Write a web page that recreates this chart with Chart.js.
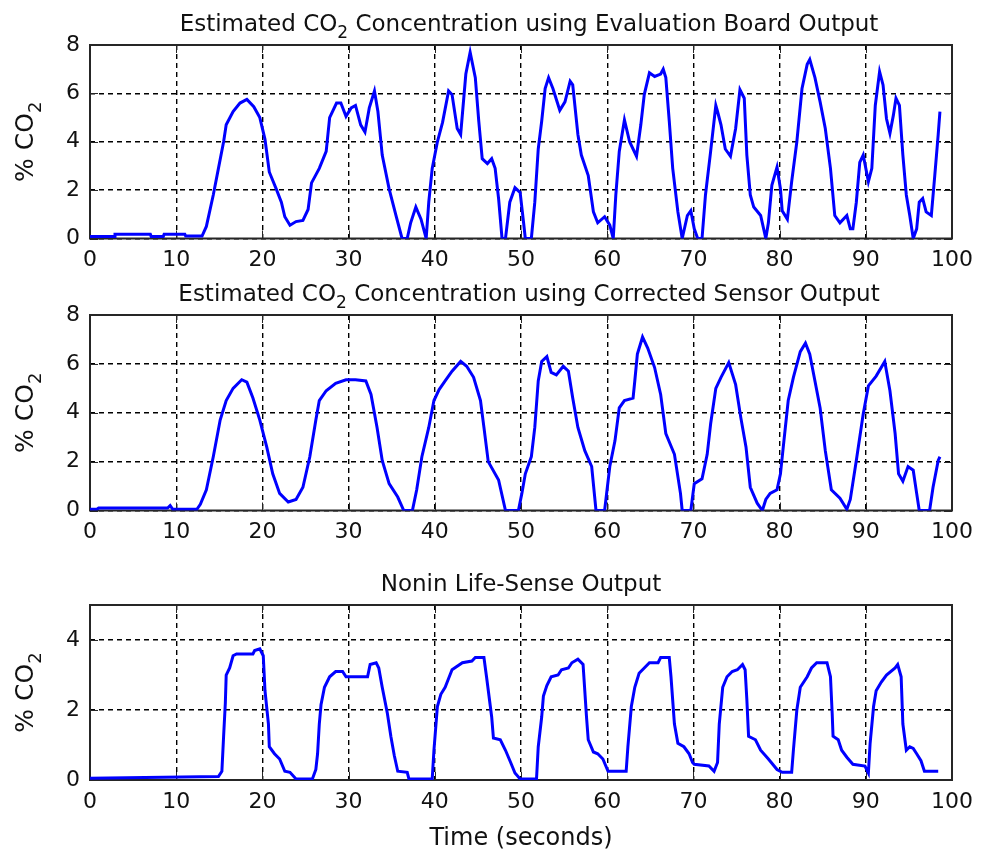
<!DOCTYPE html>
<html>
<head>
<meta charset="utf-8">
<script src="https://cdn.jsdelivr.net/npm/chart.js@4.4.1/dist/chart.umd.min.js"></script>
<style>
  html, body { margin: 0; padding: 0; background: #ffffff; }
  #wrap { position: relative; width: 982px; height: 854px; background: #ffffff; }
  #wrap canvas { position: absolute; left: 0; top: 0; }
</style>
</head>
<body>
<div id="wrap">
  <canvas id="evalChart" width="982" height="854"></canvas>
  <canvas id="corrChart" width="982" height="854"></canvas>
  <canvas id="noninChart" width="982" height="854"></canvas>
</div>
<script>
// ---- Data: time (s) and % CO2 for each recording ----
const timeTicks = [0, 10, 20, 30, 40, 50, 60, 70, 80, 90, 100];
const co2Ticks8 = [0, 2, 4, 6, 8];
const co2Ticks5 = [0, 2, 4];

// Evaluation board output
const evalTime = [
  0, 2.8, 2.9, 7, 7.1, 8.5, 8.6, 11, 11.1, 13,
  13.5, 14.3, 14.9, 15.5, 15.8, 16.6, 17.4, 18.2, 19,
  19.7, 20.3, 20.8, 21.6, 22.2, 22.6, 23.2, 23.9, 24.7, 25.3,
  25.7, 26.6, 27.4, 27.8, 28.6, 29.1, 29.7, 30.3, 30.8, 31.4, 31.9, 32.4, 33,
  33.4, 33.9, 34.7, 35.5, 36.2, 36.8, 37.2, 37.8, 38.4, 39,
  39.3, 39.7, 40.3, 40.9, 41.6, 42, 42.6, 43, 43.6, 44.1, 44.7, 45.1,
  45.5, 46.1, 46.6, 47, 47.4, 47.8, 48.2, 48.7, 49.3, 49.9, 50.3, 50.5, 51.2,
  51.6, 52, 52.4, 52.8, 53.2, 53.7, 54.5, 55.1, 55.7, 56.0, 56.6, 57,
  57.8, 58.4, 58.9, 59.7, 60.3, 60.7, 61.0, 61.4, 62, 62.6, 63.4,
  63.9, 64.3, 64.9, 65.5, 66.2, 66.5, 66.8, 67.2, 67.6, 68.2, 68.7, 69.3,
  69.7, 70.1, 70.5, 71.0, 71.4, 72, 72.6, 72.8, 73.2, 73.7, 74.3, 74.9, 75.4,
  75.9, 76.2, 76.6, 77.0, 77.8, 78.4, 78.7, 79.1, 79.7, 80.1, 80.3, 80.9, 81.4,
  82, 82.6, 83.2, 83.5, 84.1, 84.7, 85.3, 85.9, 86.4, 87, 87.8, 88.2, 88.5,
  88.9, 89.3, 89.7, 90.3, 90.7, 91.1, 91.6, 92, 92.4, 92.8, 93.2, 93.5, 93.9, 94.3,
  94.7, 95.1, 95.5, 95.9, 96.2, 96.6, 97, 97.6, 98, 98.4, 98.6
];
const evalCO2 = [
  0.08, 0.08, 0.18, 0.18, 0.08, 0.08, 0.18, 0.18, 0.1, 0.1,
  0.5, 1.8, 2.9, 4.0, 4.7, 5.25, 5.6, 5.75, 5.45,
  5.0, 4.1, 2.75, 2.05, 1.5, 0.9, 0.55, 0.7, 0.75, 1.2,
  2.3, 2.9, 3.6, 5.0, 5.6, 5.6, 5.05, 5.4, 5.5, 4.7, 4.4, 5.4, 6.1,
  5.25, 3.45, 2.05, 0.95, 0, 0, 0.65, 1.3, 0.8, 0,
  1.5, 2.9, 4.0, 4.8, 6.1, 5.95, 4.55, 4.3, 6.8, 7.7, 6.65, 4.85,
  3.3, 3.1, 3.3, 2.9, 1.65, 0, 0, 1.5, 2.1, 1.9, 0.65, 0, 0,
  1.5, 3.7, 4.85, 6.2, 6.65, 6.2, 5.3, 5.65, 6.5, 6.35, 4.3, 3.45,
  2.6, 1.1, 0.65, 0.9, 0.55, 0, 1.8, 3.6, 4.9, 4.0, 3.4,
  4.7, 5.95, 6.85, 6.7, 6.8, 7.0, 6.65, 4.85, 2.9, 1.1, 0, 0.95,
  1.15, 0.4, 0, 0, 1.8, 3.6, 5.5, 5.25, 4.7, 3.7, 3.4, 4.55, 6.15,
  5.8, 3.45, 1.8, 1.3, 0.95, 0, 0.65, 2.2, 2.95, 2.05, 1.15, 0.8, 2.35,
  4.0, 6.2, 7.2, 7.4, 6.65, 5.65, 4.55, 2.9, 0.95, 0.65, 0.95, 0.4, 0.4,
  1.5, 3.15, 3.45, 2.35, 2.9, 5.5, 6.9, 6.35, 4.95, 4.35, 5.1, 5.8, 5.5, 3.45,
  1.8, 0.95, 0, 0.4, 1.5, 1.65, 1.1, 0.95, 2.6, 4.3, 5.25
];

// Corrected sensor output
const corrTime = [
  0, 0.8, 1, 9, 9.3, 9.6, 12.4, 12.8,
  13.5, 14.3, 15.1, 15.8, 16.6, 17.6, 18.2, 18.9, 19.7, 20.5, 21.2, 22, 23, 23.9, 24.7,
  25.5, 26.2, 26.6, 27.4, 28.5, 29.7, 30.8, 32, 32.6, 33.3, 33.9, 34.7, 35.7, 36.4, 37.4, 37.9,
  38.5, 39.3, 39.9, 40.5, 41.2, 42, 43, 43.7, 44.5, 45.3, 45.7, 46.2, 47.4, 48.2, 49.7,
  50.1, 50.5, 51.2, 51.6, 52, 52.4, 53, 53.5, 54.1, 54.9, 55.5, 56.0, 56.6, 57.4, 58.2, 58.7, 59.7,
  60.3, 60.9, 61.4, 62, 63, 63.2, 63.5, 64.1, 64.7, 65.5, 66.2, 66.8, 67.8, 68.5, 68.7, 69.7,
  70.1, 71.0, 71.6, 72, 72.6, 73.2, 74.1, 74.9, 75.5, 76.1, 76.6, 77.4, 78, 78.4, 78.9, 79.7,
  80.1, 80.5, 81.0, 81.6, 82.4, 83, 83.5, 84.1, 84.7, 85.3, 86, 87, 87.8, 88.2,
  88.9, 89.7, 90.3, 91.2, 92.2, 92.8, 93.4, 93.8, 94.3, 94.9, 95.5, 95.9, 96.2, 97.4, 97.8, 98.4, 98.6
];
const corrCO2 = [
  0.05, 0.05, 0.1, 0.1, 0.2, 0.05, 0.05, 0.25,
  0.85, 2.2, 3.7, 4.5, 5.0, 5.35, 5.25, 4.6, 3.7, 2.6, 1.5, 0.7, 0.35, 0.45, 0.95,
  2.2, 3.7, 4.5, 4.9, 5.2, 5.35, 5.35, 5.3, 4.75, 3.4, 2.05, 1.1, 0.55, 0, 0, 0.85,
  2.2, 3.4, 4.5, 4.95, 5.3, 5.7, 6.1, 5.9, 5.45, 4.5, 3.4, 2.0, 1.25, 0, 0,
  0.7, 1.5, 2.2, 3.4, 5.3, 6.1, 6.3, 5.65, 5.55, 5.9, 5.7, 4.6, 3.4, 2.45, 1.8, 0, 0,
  1.8, 2.85, 4.2, 4.5, 4.6, 5.3, 6.4, 7.1, 6.65, 5.85, 4.75, 3.15, 2.3, 0.7, 0, 0,
  1.1, 1.3, 2.3, 3.55, 5.0, 5.45, 6.05, 5.15, 3.8, 2.6, 0.95, 0.3, 0, 0.45, 0.7, 0.85,
  1.5, 2.85, 4.5, 5.45, 6.5, 6.85, 6.4, 5.3, 4.2, 2.45, 0.85, 0.5, 0.05, 0.45,
  2.05, 3.95, 5.1, 5.5, 6.1, 4.9, 3.15, 1.5, 1.2, 1.8, 1.65, 0.7, 0, 0, 0.95, 2.05, 2.2
];

// Nonin Life-Sense output
const noninTime = [
  0, 14.9, 15.3, 15.5, 15.7, 15.8, 16.2, 16.6, 17, 18.9, 19.1, 19.7, 20.1,
  20.3, 20.7, 20.8, 21.4, 22, 22.6, 23.2, 23.9, 25.8, 26.2, 26.4, 26.6, 26.8, 27.2, 27.8, 28.5, 29.3, 29.7,
  32.2, 32.5, 33.2, 33.5, 33.9, 34.5, 34.9, 35.3, 35.7, 36.8, 37, 39.7, 39.9, 40.3, 40.7, 41.2, 41.6, 42,
  43.2, 44.3, 44.7, 45.7, 46.0, 46.6, 46.8, 47.6, 48.2, 48.8, 49.3, 49.9, 51.8,
  52, 52.4, 52.6, 53, 53.5, 54.3, 54.7, 55.5, 55.9, 56.6, 57.2, 57.6, 57.8, 58.4, 58.9, 59.5, 60.1, 62.2,
  62.4, 62.8, 63.2, 63.7, 64.3, 64.9, 65.9, 66.2, 67.2, 67.4, 67.8, 68.2, 68.9, 69.5, 69.9, 70.1, 71.8, 72.4,
  72.8, 73.0, 73.4, 73.9, 74.5, 75.1, 75.7, 76.0, 76.2, 76.4, 77.2, 77.8, 78.7, 79.7, 80.3, 81.4,
  81.6, 82, 82.4, 83.2, 83.7, 84.3, 85.5, 85.9, 86.1, 86.2, 86.8, 87.2, 87.8, 88.5, 89.9, 90.3,
  90.5, 90.9, 91.2, 91.8, 92.4, 93.4, 93.7, 94.1, 94.3, 94.7, 95.1, 95.5, 95.9, 96.4, 96.8, 98.4
];
const noninCO2 = [
  0.05, 0.1, 0.25, 1.25, 2.2, 3.0, 3.2, 3.55, 3.6, 3.6, 3.7, 3.75, 3.55,
  2.55, 1.6, 0.95, 0.75, 0.6, 0.25, 0.22, 0.03, 0.03, 0.3, 0.75, 1.6, 2.15, 2.65, 2.95, 3.1, 3.1, 2.95,
  2.95, 3.3, 3.35, 3.2, 2.65, 1.9, 1.25, 0.7, 0.25, 0.22, 0.03, 0.03, 0.85, 2.1, 2.45, 2.65, 2.9, 3.15,
  3.35, 3.4, 3.5, 3.5, 2.95, 1.8, 1.2, 1.15, 0.85, 0.5, 0.2, 0.03, 0.03,
  0.95, 1.8, 2.4, 2.7, 2.95, 3.0, 3.15, 3.2, 3.35, 3.45, 3.3, 1.8, 1.15, 0.8, 0.75, 0.6, 0.25, 0.25,
  0.95, 2.1, 2.65, 3.05, 3.2, 3.35, 3.35, 3.5, 3.5, 2.95, 1.6, 1.05, 0.95, 0.75, 0.5, 0.45, 0.4, 0.25,
  0.5, 1.6, 2.65, 2.95, 3.1, 3.15, 3.3, 3.15, 2.3, 1.25, 1.15, 0.85, 0.6, 0.3, 0.22, 0.22,
  0.85, 2.0, 2.65, 2.95, 3.2, 3.35, 3.35, 2.95, 1.9, 1.25, 1.15, 0.85, 0.65, 0.45, 0.4, 0.2,
  1.05, 2.1, 2.55, 2.8, 3.0, 3.2, 3.3, 2.95, 1.6, 0.85, 0.95, 0.9, 0.75, 0.55, 0.25, 0.25
];

// Titles with subscript runs: [text, isSubscript]
const evalTitle = [['Estimated CO', false], ['2', true], [' Concentration using Evaluation Board Output', false]];
const corrTitle = [['Estimated CO', false], ['2', true], [' Concentration using Corrected Sensor Output', false]];
const noninTitle = [['Nonin Life-Sense Output', false]];
const co2Label = [['% CO', false], ['2', true]];
const timeLabel = [['Time (seconds)', false]];

// ---- Drawing helpers ----
const FONT = '"DejaVu Sans", sans-serif';
const TEXT_COLOR = '#111111';
const AXIS_COLOR = '#262626';

function drawRuns(ctx, runs, cx, baseline, size) {
  const subSize = Math.round(size * 0.72);
  let total = 0;
  runs.forEach(([t, sub]) => {
    ctx.font = (sub ? subSize : size) + 'px ' + FONT;
    total += ctx.measureText(t).width;
  });
  let x = cx - total / 2;
  ctx.textAlign = 'left';
  ctx.textBaseline = 'alphabetic';
  runs.forEach(([t, sub]) => {
    ctx.font = (sub ? subSize : size) + 'px ' + FONT;
    ctx.fillText(t, x, baseline + (sub ? Math.round(size * 0.3) : 0));
    x += ctx.measureText(t).width;
  });
}

// Boxed axes with inward tick marks, subplot title and axis labels
const boxedAxes = {
  id: 'boxedAxes',
  beforeDatasetsDraw(chart) {
    const { ctx, chartArea: a, scales } = chart;
    const tl = 8;
    ctx.save();
    ctx.strokeStyle = AXIS_COLOR;
    ctx.lineWidth = 1;
    ctx.beginPath();
    scales.x.ticks.forEach(t => {
      const px = Math.round(scales.x.getPixelForValue(t.value)) + 0.5;
      ctx.moveTo(px, a.bottom); ctx.lineTo(px, a.bottom - tl);
      ctx.moveTo(px, a.top); ctx.lineTo(px, a.top + tl);
    });
    scales.y.ticks.forEach(t => {
      const py = Math.round(scales.y.getPixelForValue(t.value)) + 0.5;
      ctx.moveTo(a.left, py); ctx.lineTo(a.left + tl, py);
      ctx.moveTo(a.right, py); ctx.lineTo(a.right - tl, py);
    });
    ctx.stroke();
    ctx.lineWidth = 2;
    ctx.strokeRect(a.left, a.top, a.right - a.left, a.bottom - a.top);
    ctx.restore();
  },
  afterDraw(chart, args, opts) {
    const { ctx, chartArea: a } = chart;
    const mid = (a.left + a.right) / 2;
    ctx.save();
    ctx.fillStyle = TEXT_COLOR;
    drawRuns(ctx, opts.title, mid + opts.titleShift, a.top - 14, 23);
    if (opts.xLabel) drawRuns(ctx, opts.xLabel, mid, a.bottom + 65, 24);
    ctx.translate(33, (a.top + a.bottom) / 2);
    ctx.rotate(-Math.PI / 2);
    drawRuns(ctx, opts.yLabel, 0, 0, 25);
    ctx.restore();
  }
};

function fixedTicks(values) {
  return scale => { scale.ticks = values.map(v => ({ value: v })); };
}

function makeChart(id, times, values, yMax, yTicks, area, pluginOpts) {
  const points = times.map((t, i) => ({ x: t, y: values[i] }));
  return new Chart(document.getElementById(id), {
    type: 'line',
    data: {
      datasets: [{
        data: points,
        borderColor: '#0000ff',
        borderWidth: 3,
        pointRadius: 0,
        tension: 0,
        fill: false
      }]
    },
    options: {
      responsive: false,
      animation: false,
      devicePixelRatio: 1,
      events: [],
      layout: {
        padding: { left: 0, right: 982 - area.right, top: area.top, bottom: 854 - area.bottom - 40 }
      },
      plugins: {
        legend: { display: false },
        tooltip: { enabled: false },
        title: { display: false },
        boxedAxes: pluginOpts
      },
      scales: {
        x: {
          type: 'linear',
          min: 0, max: 100,
          afterBuildTicks: fixedTicks(timeTicks),
          afterFit: s => { s.height = 40; },
          grid: { color: '#000000', lineWidth: 1.4, drawTicks: false },
          border: { display: false, dash: [5, 4] },
          ticks: {
            padding: 9,
            color: TEXT_COLOR,
            font: { family: FONT, size: 22 },
            maxRotation: 0,
            autoSkip: false
          }
        },
        y: {
          type: 'linear',
          min: 0, max: yMax,
          afterBuildTicks: fixedTicks(yTicks),
          afterFit: s => { s.width = area.left; },
          grid: { color: '#000000', lineWidth: 1.4, drawTicks: false },
          border: { display: false, dash: [5, 4] },
          ticks: {
            padding: 10,
            color: TEXT_COLOR,
            font: { family: FONT, size: 22 },
            autoSkip: false
          }
        }
      }
    },
    plugins: [boxedAxes]
  });
}

makeChart('evalChart', evalTime, evalCO2, 8, co2Ticks8,
  { left: 90, right: 957, top: 45, bottom: 238.5 },
  { title: evalTitle, yLabel: co2Label, titleShift: 8 });

makeChart('corrChart', corrTime, corrCO2, 8, co2Ticks8,
  { left: 90, right: 957, top: 315, bottom: 510.5 },
  { title: corrTitle, yLabel: co2Label, titleShift: 8 });

makeChart('noninChart', noninTime, noninCO2, 5, co2Ticks5,
  { left: 90, right: 957, top: 605, bottom: 780 },
  { title: noninTitle, yLabel: co2Label, xLabel: timeLabel, titleShift: 0 });
</script>
</body>
</html>
